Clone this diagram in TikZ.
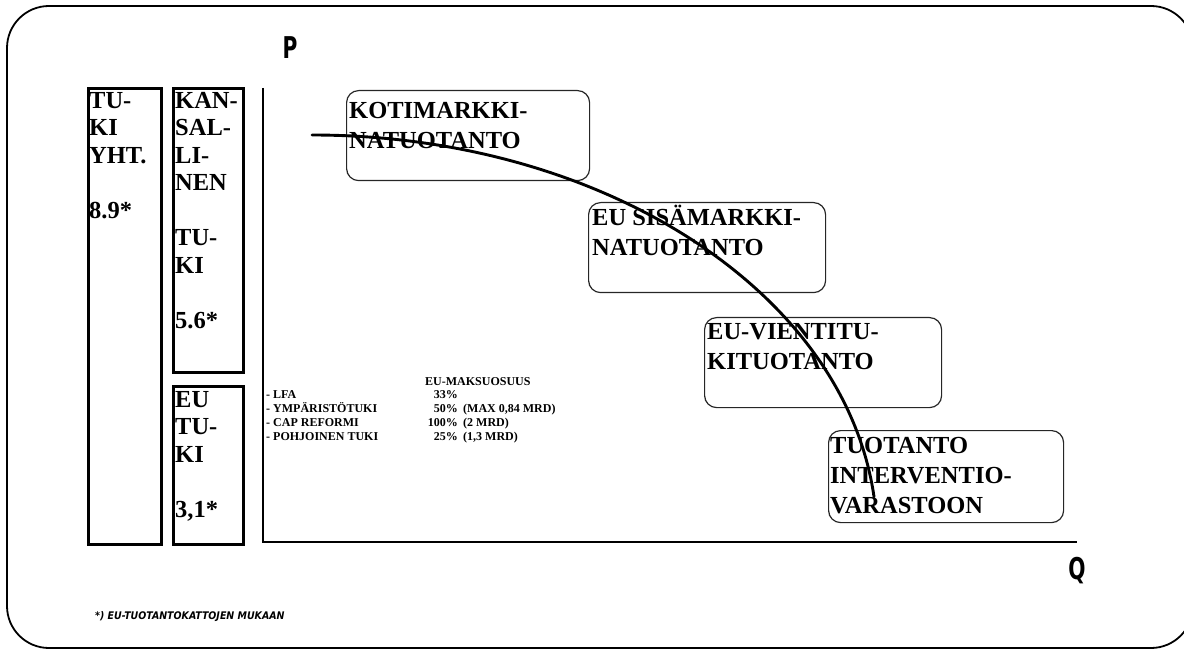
\documentclass[tikz,border=0pt]{standalone}
\usepackage{fontspec}
\setmainfont{Liberation Serif}[BoldFont={Liberation Serif Bold}]
\newfontfamily\axfont{DejaVu Sans Condensed}
\newcommand\mystrut{\rule{0pt}{20pt}}
\newcommand\smstrut{\rule{0pt}{10pt}}
\begin{document}
\begin{tikzpicture}[x=1pt,y=-1pt,
  sqbox/.style={draw,line width=2.6pt,anchor=north west,inner sep=0pt},
  rbox/.style={draw,line width=1.2pt,rounded corners=12pt,anchor=north west,inner sep=0pt,draw=black!85},
  bigtxt/.style={anchor=north west,inner sep=0pt,align=left,font=\bfseries\fontsize{24.5}{27.5}\selectfont},
  rtxt/.style={anchor=north west,inner sep=0pt,align=left,font=\bfseries\fontsize{24.5}{30}\selectfont},
  smtxt/.style={inner sep=0pt,font=\bfseries\fontsize{12}{14}\selectfont},
  axlbl/.style={inner sep=0pt,font=\axfont\bfseries\fontsize{30}{30}\selectfont,xscale=0.75},
  heavy/.style={line width=2.9pt}]
\useasboundingbox (0,0) rectangle (1184,652);
% outer frame
\draw[line width=1.8pt,rounded corners=42pt] (7,6) rectangle (1193,648);
% left boxes
\node[sqbox,minimum width=73pt,minimum height=456pt] (b1) at (87,87) {};
\node[sqbox,minimum width=70pt,minimum height=284pt] (b2) at (172,87) {};
\node[sqbox,minimum width=70pt,minimum height=158pt] (b3) at (172,385) {};
\node[bigtxt] (t1) at (89,88) {\mystrut TU-\\KI\\YHT.\\[27.5pt]8.9*};
\node[bigtxt] (t2) at (175,88) {\mystrut KAN-\\SAL-\\LI-\\NEN\\[27.5pt]TU-\\KI\\[27.5pt]5.6*};
\node[bigtxt] (t3) at (175,387) {\mystrut EU\\TU-\\KI\\[27.5pt]3,1*};
% axes
\coordinate (ytop) at (263,88);
\coordinate (orig) at (263,542);
\coordinate (xend) at (1077,542);
\draw[heavy] (ytop) -- (orig) -- (xend);
\node[axlbl] (P) at (290,48) {P};
\node[axlbl] (Q) at (1077,571) {Q};
% rounded boxes
\node[rbox,minimum width=243pt,minimum height=90pt] (r1) at (346,90) {};
\node[rbox,minimum width=237pt,minimum height=90pt] (r2) at (588,202) {};
\node[rbox,minimum width=237pt,minimum height=90pt] (r3) at (704,317) {};
\node[rbox,minimum width=235pt,minimum height=92pt] (r4) at (828,430) {};
\node[rtxt] (s1) at (349,98) {\mystrut KOTIMARKKI-\\NATUOTANTO};
\node[rtxt] (s2) at (592,205) {\mystrut EU SISÄMARKKI-\\NATUOTANTO};
\node[rtxt] (s3) at (707,319) {\mystrut EU-VIENTITU-\\KITUOTANTO};
\node[rtxt] (s4) at (830,433) {\mystrut TUOTANTO\\INTERVENTIO-\\VARASTOON};
% curve
\coordinate (cstart) at (312,135);
\draw[heavy,line cap=round] (cstart) arc[start angle=-90,end angle=-5.85,x radius=565,y radius=403];
% small table
\node[smtxt,anchor=base west] (hd) at (425,385) {EU-MAKSUOSUUS};
\node[smtxt,anchor=north west,align=left] (lab) at (266,388) {\smstrut - LFA\\- YMPÄRISTÖTUKI\\- CAP REFORMI\\- POHJOINEN TUKI};
\node[smtxt,anchor=north east,align=right] (pct) at (458,388) {\smstrut 33\%\\50\%\\100\%\\25\%};
\node[smtxt,anchor=north west,align=left] (par) at (463,388) {\smstrut\\(MAX 0,84 MRD)\\(2 MRD)\\(1,3 MRD)};
% footnote
\node[inner sep=0pt,anchor=base west,font=\axfont\bfseries\itshape\fontsize{10.5}{12}\selectfont] (fn) at (95,619) {*) EU-TUOTANTOKATTOJEN MUKAAN};
\end{tikzpicture}
\end{document}
